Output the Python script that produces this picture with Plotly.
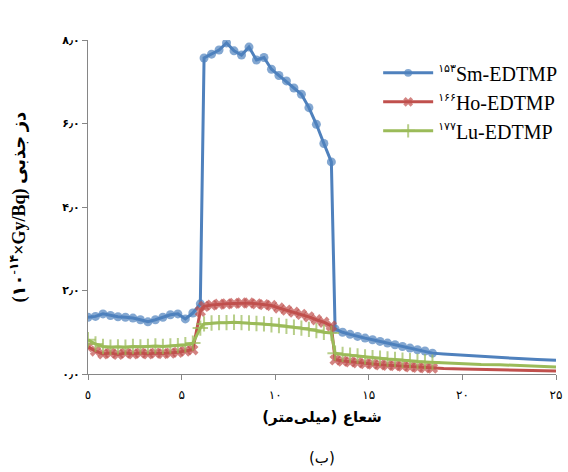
import plotly.graph_objects as go

# ---------------- data ----------------
x_low = [0, 0.4, 0.8, 1.2, 1.6, 2.0, 2.4, 2.8, 3.2, 3.6, 4.0, 4.4, 4.8, 5.2, 5.6, 6.0]
x_mid = [6.2, 6.6, 7.0, 7.4, 7.8, 8.2, 8.6, 9.0, 9.4, 9.8, 10.2, 10.6, 11.0, 11.4, 11.8, 12.2, 12.6, 13.0]
x_high = [13.2, 13.6, 14.0, 14.4, 14.8, 15.2, 15.6, 16.0, 16.4, 16.8, 17.2, 17.6, 18.0, 18.4]
x_tail = [19, 20, 21, 22, 23, 24, 25]

sm_low = [1.36, 1.38, 1.44, 1.40, 1.37, 1.36, 1.34, 1.30, 1.25, 1.30, 1.36, 1.42, 1.44, 1.32, 1.46, 1.68]
sm_mid = [7.57, 7.66, 7.76, 7.93, 7.74, 7.64, 7.83, 7.52, 7.58, 7.30, 7.15, 7.02, 6.85, 6.70, 6.38, 5.98, 5.52, 5.08]
sm_high = [1.08, 1.00, 0.95, 0.90, 0.86, 0.82, 0.78, 0.74, 0.70, 0.66, 0.62, 0.58, 0.55, 0.50]
sm_tail = [0.48, 0.45, 0.42, 0.40, 0.37, 0.35, 0.33]

ho_low = [0.65, 0.55, 0.48, 0.50, 0.47, 0.50, 0.48, 0.50, 0.48, 0.50, 0.49, 0.50, 0.52, 0.55, 0.58, 1.50]
ho_mid = [1.62, 1.65, 1.67, 1.68, 1.69, 1.70, 1.70, 1.68, 1.66, 1.64, 1.58, 1.53, 1.48, 1.43, 1.37, 1.30, 1.24, 1.15]
ho_high = [0.34, 0.31, 0.29, 0.27, 0.25, 0.24, 0.22, 0.21, 0.20, 0.19, 0.17, 0.16, 0.15, 0.14]
ho_tail = [0.13, 0.12, 0.11, 0.10, 0.09, 0.08, 0.07]

lu_low = [0.82, 0.72, 0.66, 0.64, 0.65, 0.64, 0.66, 0.65, 0.66, 0.67, 0.66, 0.67, 0.68, 0.70, 0.74, 1.10]
lu_mid = [1.20, 1.22, 1.23, 1.23, 1.24, 1.23, 1.22, 1.21, 1.20, 1.18, 1.16, 1.14, 1.12, 1.10, 1.07, 1.04, 1.00, 0.98]
lu_high = [0.50, 0.47, 0.45, 0.43, 0.41, 0.39, 0.38, 0.36, 0.35, 0.33, 0.32, 0.30, 0.29, 0.28]
lu_tail = [0.27, 0.25, 0.23, 0.22, 0.20, 0.19, 0.17]

isotopes = ["۱۵۳", "۱۶۶", "۱۷۷"]
compounds = ["Sm-EDTMP", "Ho-EDTMP", "Lu-EDTMP"]
x_tickvals = [0, 5, 10, 15, 20, 25]
x_ticktext = ["٥", "۵", "۱۰", "۱۵", "۲۰", "۲۵"]
y_tickvals = [0, 2, 4, 6, 8]
y_ticktext = ["<b>۰٫۰</b>", "<b>۲٫۰</b>", "<b>۴٫۰</b>", "<b>۶٫۰</b>", "<b>۸٫۰</b>"]

# ---------------- figure ----------------
x_all = x_low + x_mid + x_high + x_tail
n_marked = len(x_low) + len(x_mid) + len(x_high)

styles = [
    dict(color="#4F81BD", symbol="circle", size=9, lw=0),
    dict(color="#C0504D", symbol="x", size=10, lw=0),
    dict(color="#9BBB59", symbol="cross-thin", size=11, lw=2),
]
series = [
    sm_low + sm_mid + sm_high + sm_tail,
    ho_low + ho_mid + ho_high + ho_tail,
    lu_low + lu_mid + lu_high + lu_tail,
]

fig = go.Figure()
for iso, comp, ys, st in zip(isotopes, compounds, series, styles):
    sizes = [st["size"]] * n_marked + [0] * len(x_tail)
    fig.add_trace(go.Scatter(
        x=x_all, y=ys,
        name=f'<sup><span style="font-size:11px">{iso}</span></sup>{comp}',
        mode="lines+markers",
        line=dict(color=st["color"], width=3),
        marker=dict(symbol=st["symbol"], size=sizes, color=st["color"],
                    line=dict(color=st["color"], width=st["lw"])),
    ))

axis_color = "#868686"
fig.update_layout(
    width=568, height=472,
    margin=dict(l=88, r=12, t=40, b=98, autoexpand=False),
    paper_bgcolor="white", plot_bgcolor="white",
    font=dict(family="DejaVu Sans", color="black"),
    showlegend=True,
    legend=dict(x=0.62, y=0.96, xanchor="left", yanchor="top",
                font=dict(family="Liberation Serif, DejaVu Sans", size=20),
                bgcolor="rgba(0,0,0,0)", itemwidth=50),
    xaxis=dict(range=[0, 25], tickvals=x_tickvals, ticktext=x_ticktext,
               automargin=False,
               showgrid=False, zeroline=False, showline=True, linecolor=axis_color,
               ticks="outside", ticklen=5, tickcolor=axis_color,
               ticklabelstandoff=5,
               tickfont=dict(size=12, family="DejaVu Sans"),
               title=dict(text="<b>(میلی\u200cمتر) شعاع</b>", standoff=10,
                          font=dict(size=15, family="DejaVu Sans"))),
    yaxis=dict(range=[0, 8], tickvals=y_tickvals, ticktext=y_ticktext,
               automargin=False,
               showgrid=False, zeroline=False, showline=True, linecolor=axis_color,
               ticks="outside", ticklen=5, tickcolor=axis_color,
               tickfont=dict(size=11, family="DejaVu Sans"),
               title=dict(text="<b>(۱۰<sup>-۱۴</sup>×Gy/Bq) دز جذبی</b>", standoff=31,
                          font=dict(size=18, family="Liberation Serif, DejaVu Sans"))),
    annotations=[dict(text="(ب)", xref="paper", yref="paper", x=0.5, y=-0.25,
                      xanchor="center", yanchor="middle", showarrow=False,
                      font=dict(size=15, family="DejaVu Sans"))],
)

fig.write_html("out.html",
               config={"displayModeBar": False},
               post_script="document.body.style.margin='0';document.body.style.overflow='hidden';")
